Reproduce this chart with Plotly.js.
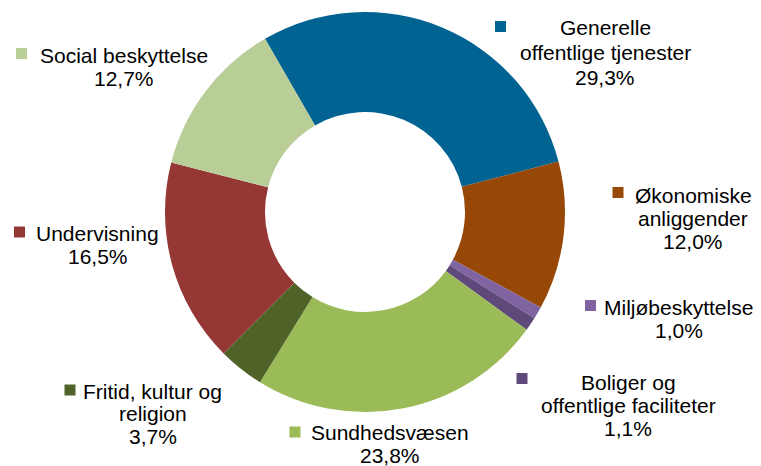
<!DOCTYPE html>
<html>
<head>
<meta charset="utf-8">
<script src="https://cdn.plot.ly/plotly-3.0.1.min.js"></script>
<style>html,body{margin:0;padding:0;background:#fff;}#chart{width:761px;height:466px;}</style>
</head>
<body>
<div id="chart"></div>
<script>
// ---- data ----
const categories = ["Generelle<br>offentlige tjenester", "Økonomiske<br>anliggender", "Miljøbeskyttelse",
  "Boliger og<br>offentlige faciliteter", "Sundhedsvæsen", "Fritid, kultur og<br>religion",
  "Undervisning", "Social beskyttelse"];
const shares = [29.3, 12.0, 1.0, 1.1, 23.8, 3.7, 16.5, 12.7];
const colors = ["#006391", "#974806", "#8064A2", "#5F497A", "#9BBB59", "#4F6228", "#953735", "#B9CD96"];

// ---- label layout (pixel positions) ----
const labelX = [605, 693, 678.5, 628, 390, 152.5, 97.5, 124];
const labelY = [27.5, 195, 307, 382, 432, 391, 233, 56];
const lineGap = [25, 23.5, 23, 23, 23, 22.5, 23, 22.5];
const squareX = [500.5, 618, 590.5, 522, 295, 70, 19.5, 21.5];
const squareY = [26.5, 192.5, 305.5, 378.5, 432, 390, 232, 53.5];

const W = 761, H = 466;
const px = x => x / W, py = y => 1 - y / H;
const FONT = {family: "Liberation Sans, Arial, sans-serif", size: 21, color: "#000"};

const annotations = [], shapes = [];
categories.forEach((cat, i) => {
  const lines = cat.split("<br>");
  lines.push(shares[i].toFixed(1).replace(".", ",") + "%");
  lines.forEach((t, j) => {
    annotations.push({
      xref: "paper", yref: "paper", x: px(labelX[i]), y: py(labelY[i] + j * lineGap[i]),
      xanchor: "center", yanchor: "middle", text: t, showarrow: false, font: FONT
    });
  });
  const s = 5.5;
  shapes.push({
    type: "rect", xref: "paper", yref: "paper",
    x0: px(squareX[i] - s), x1: px(squareX[i] + s),
    y0: py(squareY[i] + s), y1: py(squareY[i] - s),
    fillcolor: colors[i], line: {width: 0}
  });
});

const trace = {
  type: "pie",
  labels: categories,
  values: shares,
  sort: false,
  direction: "clockwise",
  rotation: -30,
  hole: 0.5,
  textinfo: "none",
  hoverinfo: "none",
  marker: {colors: colors, line: {width: 0}},
  domain: {x: [165 / W, 565 / W], y: [1 - 412 / H, 1 - 12 / H]}
};

Plotly.newPlot("chart", [trace], {
  width: W, height: H,
  margin: {l: 0, r: 0, t: 0, b: 0},
  paper_bgcolor: "#fff",
  showlegend: false,
  annotations: annotations,
  shapes: shapes
}, {displayModeBar: false, staticPlot: true});
</script>
</body>
</html>
